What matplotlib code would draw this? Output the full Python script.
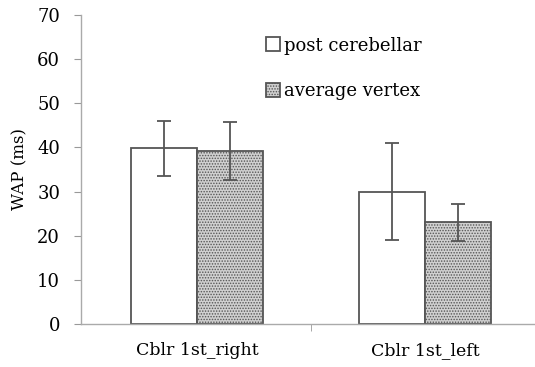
import numpy as np
import matplotlib.pyplot as plt

categories = ["Cblr 1st_right", "Cblr 1st_left"]
series = ["post cerebellar", "average vertex"]
post_cerebellar = [39.8, 30.0]
post_cerebellar_err = [6.3, 11.0]
average_vertex = [39.2, 23.0]
average_vertex_err = [6.6, 4.1]

plt.rcParams['font.family'] = ['DejaVu Serif']
plt.rcParams['hatch.color'] = '#333333'
plt.rcParams['hatch.linewidth'] = 0.7

fig = plt.figure(figsize=(5.35, 3.67), dpi=100)
ax = fig.add_axes([81/535, 43/367, 456/535, 309/367])

x = np.arange(len(categories))
w = 0.29
edge = '#555555'
ax.bar(x - w/2, post_cerebellar, w, color='white', edgecolor=edge, linewidth=1.3,
       label=series[0], zorder=2)
ax.bar(x + w/2, average_vertex, w, color='#d0d0d0', edgecolor=edge, linewidth=1.3,
       hatch='......', label=series[1], zorder=2)
ax.errorbar(x - w/2, post_cerebellar, yerr=post_cerebellar_err, fmt='none',
            ecolor=edge, elinewidth=1.3, capsize=4.7, capthick=1.3, zorder=3)
ax.errorbar(x + w/2, average_vertex, yerr=average_vertex_err, fmt='none',
            ecolor=edge, elinewidth=1.3, capsize=4.7, capthick=1.3, zorder=3)

ax.set_xlim(-0.51, 1.49)
ax.set_ylim(0, 70)
ax.set_yticks(range(0, 71, 10))
ax.set_xticks(x)
ax.set_xticklabels(categories, fontsize=12.5)
ax.set_xticks([0.5], minor=True)
ax.tick_params(axis='x', which='major', length=0, pad=13)
ax.tick_params(axis='x', which='minor', length=5, color='#999999', direction='out')
ax.tick_params(axis='y', length=5, color='#999999', labelsize=13, pad=10)
ax.set_ylabel("WAP (ms)", fontsize=12, labelpad=6)

for s in ['top', 'right']:
    ax.spines[s].set_visible(False)
for s in ['left', 'bottom']:
    ax.spines[s].set_color('#aaaaaa')
    ax.spines[s].set_linewidth(1.0)

ax.legend(loc='upper left', bbox_to_anchor=(0.37, 0.983), frameon=False,
          fontsize=13, handlelength=0.8, handleheight=0.8, handletextpad=0.2,
          labelspacing=1.55)

fig.savefig("out.png", dpi=100)
